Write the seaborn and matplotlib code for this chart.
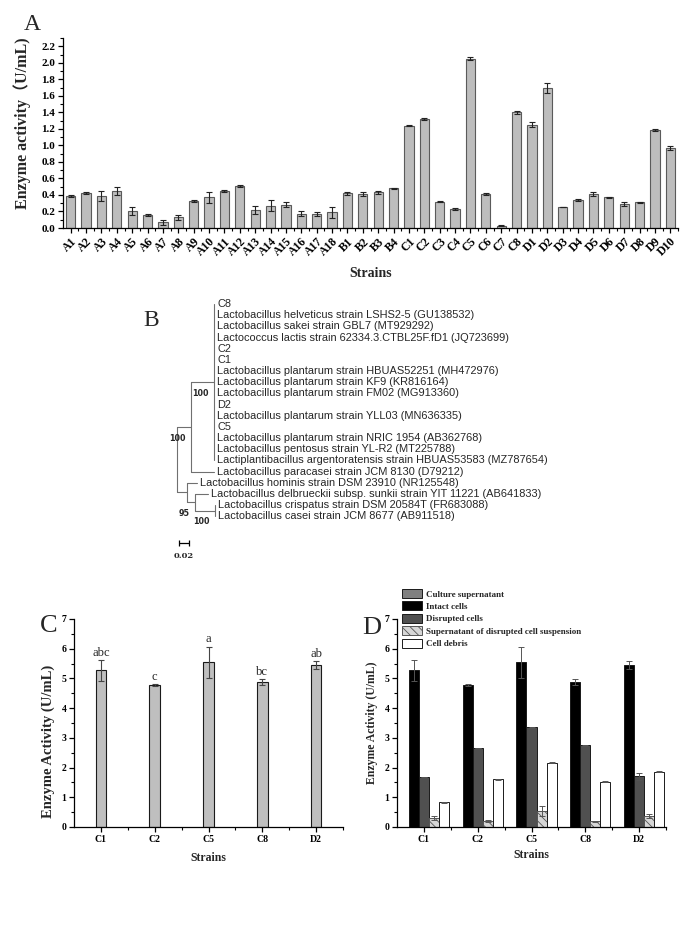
import numpy as np
import pandas as pd
import matplotlib
matplotlib.use("Agg")
import matplotlib.pyplot as plt
from matplotlib.patches import Patch
from matplotlib.ticker import MultipleLocator, FormatStrFormatter
import seaborn as sns

# ---- panel A: all strains ----
strains = ["A1", "A2", "A3", "A4", "A5", "A6", "A7", "A8", "A9", "A10",
           "A11", "A12", "A13", "A14", "A15", "A16", "A17", "A18",
           "B1", "B2", "B3", "B4",
           "C1", "C2", "C3", "C4", "C5", "C6", "C7", "C8",
           "D1", "D2", "D3", "D4", "D5", "D6", "D7", "D8", "D9", "D10"]
activity = [0.39, 0.42, 0.39, 0.45, 0.21, 0.16, 0.07, 0.13, 0.33, 0.37,
            0.45, 0.51, 0.22, 0.27, 0.28, 0.17, 0.17, 0.19,
            0.42, 0.41, 0.43, 0.48,
            1.24, 1.32, 0.32, 0.23, 2.05, 0.41, 0.03, 1.40,
            1.25, 1.70, 0.25, 0.34, 0.41, 0.37, 0.29, 0.31, 1.19, 0.97]
activity_err = [0.01, 0.01, 0.06, 0.05, 0.05, 0.01, 0.03, 0.03, 0.01, 0.07,
                0.01, 0.01, 0.05, 0.07, 0.03, 0.03, 0.02, 0.07,
                0.02, 0.02, 0.02, 0.01,
                0.01, 0.01, 0.01, 0.01, 0.02, 0.01, 0.01, 0.02,
                0.03, 0.06, 0.00, 0.01, 0.02, 0.01, 0.02, 0.01, 0.01, 0.02]

# ---- panel B: 16S tree ----
tree_labels = [
    "C8",
    "Lactobacillus helveticus strain LSHS2-5 (GU138532)",
    "Lactobacillus sakei strain GBL7 (MT929292)",
    "Lactococcus lactis strain 62334.3.CTBL25F.fD1 (JQ723699)",
    "C2",
    "C1",
    "Lactobacillus plantarum strain HBUAS52251 (MH472976)",
    "Lactobacillus plantarum strain KF9 (KR816164)",
    "Lactobacillus plantarum strain FM02 (MG913360)",
    "D2",
    "Lactobacillus plantarum strain YLL03 (MN636335)",
    "C5",
    "Lactobacillus plantarum strain NRIC 1954 (AB362768)",
    "Lactobacillus pentosus strain YL-R2 (MT225788)",
    "Lactiplantibacillus argentoratensis strain HBUAS53583 (MZ787654)",
    "Lactobacillus paracasei strain JCM 8130 (D79212)",
    "Lactobacillus hominis strain DSM 23910 (NR125548)",
    "Lactobacillus delbrueckii subsp. sunkii strain YIT 11221 (AB641833)",
    "Lactobacillus crispatus strain DSM 20584T (FR683088)",
    "Lactobacillus casei strain JCM 8677 (AB911518)",
]
# (child, parent, branch length); ints are leaves
tree_edges = [("n1", "root", 0.027), ("n3", "root", 0.019),
              ("n2", "n1", 0.047), (15, "n1", 0.047)] + \
             [(i, "n2", 0.0) for i in range(15)] + \
             [(16, "n3", 0.020), ("n4", "n3", 0.017),
              (17, "n4", 0.026), ("n5", "n4", 0.039),
              (18, "n5", 0.0), (19, "n5", 0.0)]
bootstrap = {"n1": 100, "n2": 100, "n4": 95, "n5": 100}
scale_len = 0.02

# ---- panels C and D: selected strains ----
sel_strains = ["C1", "C2", "C5", "C8", "D2"]
sel_activity = [5.27, 4.77, 5.55, 4.87, 5.44]
sel_err = [0.34, 0.03, 0.52, 0.10, 0.13]
sel_letters = ["abc", "c", "a", "bc", "ab"]

fractions = ["Culture supernatant", "Intact cells", "Disrupted cells",
             "Supernatant of disrupted cell suspension", "Cell debris"]
culture_sup = [0.0, 0.0, 0.0, 0.0, 0.0]
culture_sup_err = [0.0, 0.0, 0.0, 0.0, 0.0]
intact = [5.27, 4.77, 5.55, 4.87, 5.44]
intact_err = [0.34, 0.03, 0.52, 0.10, 0.13]
disrupted = [1.68, 2.65, 3.35, 2.75, 1.70]
disrupted_err = [0.0, 0.0, 0.02, 0.02, 0.12]
sup_disrupted = [0.30, 0.20, 0.54, 0.19, 0.37]
sup_disrupted_err = [0.08, 0.02, 0.17, 0.02, 0.08]
debris = [0.83, 1.60, 2.16, 1.53, 1.86]
debris_err = [0.02, 0.02, 0.02, 0.01, 0.01]

fraction_colors = ["#808080", "#000000", "#505050", "#d6d6d6", "#ffffff"]

sns.set_theme(style="ticks")
serif = ["Liberation Serif", "DejaVu Serif"]
plt.rcParams["font.family"] = serif
plt.rcParams["axes.linewidth"] = 0.9
plt.rcParams["hatch.linewidth"] = 0.6

fig = plt.figure(figsize=(7, 9.26), dpi=100)
H = 926.0


def style_axis(ax, fs):
    sns.despine(ax=ax)
    ax.tick_params(axis="both", which="major", direction="out", length=3.5,
                   width=0.9, labelsize=fs, pad=2, colors="black")
    ax.tick_params(axis="both", which="minor", direction="out", length=2,
                   width=0.8, colors="black")
    for lab in ax.get_xticklabels() + ax.get_yticklabels():
        lab.set_fontweight("bold")
    ax.spines["left"].set_color("black")
    ax.spines["bottom"].set_color("black")


# ===== A =====
axA = fig.add_axes([63 / 700, 1 - 228 / H, 615 / 700, 190 / H])
dfA = pd.DataFrame({"strain": strains, "activity": activity})
sns.barplot(data=dfA, x="strain", y="activity", order=strains,
            color="#bdbdbd", edgecolor="#5a5a5a", linewidth=0.8,
            width=0.6, saturation=1, errorbar=None, ax=axA)
axA.errorbar(np.arange(len(strains)), activity, yerr=activity_err,
             fmt="none", ecolor="#222222", elinewidth=0.8,
             capsize=2.2, capthick=0.8)
axA.set_xlim(-0.5, len(strains) - 0.5)
axA.set_ylim(0, 2.3)
axA.yaxis.set_major_locator(MultipleLocator(0.2))
axA.yaxis.set_minor_locator(MultipleLocator(0.1))
axA.yaxis.set_major_formatter(FormatStrFormatter("%.1f"))
axA.set_xticks(np.arange(len(strains)) + 0.5, minor=True)
style_axis(axA, 8)
plt.setp(axA.get_xticklabels(), rotation=45, ha="right",
         rotation_mode="anchor", fontsize=8.5)
axA.set_xlabel("Strains", fontsize=10, fontweight="bold", labelpad=6)
axA.set_ylabel("Enzyme activity（U/mL)", fontsize=11.5, fontweight="bold",
               family=["Liberation Serif", "Noto Sans CJK SC"], labelpad=2)
axA.yaxis.set_label_coords(-0.052, 0.55)
fig.text(24 / 700, 1 - 25 / H, "A", fontsize=17, va="center", ha="left")

# ===== B =====
row0, row_h = 304.0, 11.17
x0_px, px_per_unit = 177.3, 500.0
axB = fig.add_axes([140 / 700, 1 - 565 / H, 420 / 700, 270 / H])
axB.set_xlim((140 - x0_px) / px_per_unit, (560 - x0_px) / px_per_unit)
axB.set_ylim((565 - row0) / row_h, (295 - row0) / row_h)
axB.axis("off")

children = {}
length = {}
for child, parent, bl in tree_edges:
    children.setdefault(parent, []).append(child)
    length[child] = bl
node_x = {"root": 0.0}
node_y = {}


def place(node):
    for c in children.get(node, []):
        node_x[c] = node_x[node] + length[c]
        place(c)
    if isinstance(node, int):
        node_y[node] = float(node)
    else:
        ys = [node_y[c] for c in children[node]]
        node_y[node] = (min(ys) + max(ys)) / 2


place("root")
line_col = "#707070"
for node, kids in children.items():
    ys = [node_y[c] for c in kids]
    axB.plot([node_x[node]] * 2, [min(ys), max(ys)], color=line_col, lw=0.8)
    for c in kids:
        if length[c] > 0:
            axB.plot([node_x[node], node_x[c]], [node_y[c]] * 2,
                     color=line_col, lw=0.8)
for i, lab in enumerate(tree_labels):
    axB.text(node_x[i] + 0.006, node_y[i], lab, fontsize=7.9,
             family="Liberation Sans", va="center", ha="left")
for node, bs in bootstrap.items():
    axB.text(node_x[node] - 0.011, node_y[node] + 1.0, str(bs), fontsize=5.8,
             family="DejaVu Sans", fontweight="bold", va="center", ha="right")
sb_y = (543 - row0) / row_h
axB.errorbar([0.003 + scale_len / 2], [sb_y], xerr=[scale_len / 2],
             fmt="none", ecolor="black", elinewidth=0.9, capsize=2.5,
             capthick=0.9)
axB.text(0.003 + scale_len / 2, sb_y + 1.15, f"{scale_len:.2f}", fontsize=6,
         family="DejaVu Serif", fontweight="bold", ha="center", va="center")
fig.text(143 / 700, 1 - 320 / H, "B", fontsize=17, va="center", ha="left")

# ===== C =====
axC = fig.add_axes([74 / 700, 1 - 827 / H, 269 / 700, 208 / H])
dfC = pd.DataFrame({"strain": sel_strains, "activity": sel_activity})
sns.barplot(data=dfC, x="strain", y="activity", order=sel_strains,
            color="#bfbfbf", edgecolor="#1a1a1a", linewidth=0.8,
            width=0.2, saturation=1, errorbar=None, ax=axC)
axC.errorbar(np.arange(len(sel_strains)), sel_activity, yerr=sel_err,
             fmt="none", ecolor="#444444", elinewidth=0.8,
             capsize=2.5, capthick=0.8)
for i, (v, e, t) in enumerate(zip(sel_activity, sel_err, sel_letters)):
    axC.text(i, v + e + 0.04, t, fontsize=9, ha="center", va="bottom")
axC.set_xlim(-0.5, len(sel_strains) - 0.5)
axC.set_ylim(0, 7)
axC.yaxis.set_major_locator(MultipleLocator(1))
axC.yaxis.set_minor_locator(MultipleLocator(0.5))
axC.set_xticks(np.arange(len(sel_strains)) + 0.5, minor=True)
style_axis(axC, 7)
axC.set_xlabel("Strains", fontsize=8.5, fontweight="bold", labelpad=6)
axC.set_ylabel("Enzyme Activity (U/mL)", fontsize=10.5, fontweight="bold")
axC.yaxis.set_label_coords(-0.07, 0.41)
fig.text(40 / 700, 1 - 626 / H, "C", fontsize=19, va="center", ha="left")

# ===== D =====
axD = fig.add_axes([397 / 700, 1 - 827 / H, 269 / 700, 208 / H])
values = [culture_sup, intact, disrupted, sup_disrupted, debris]
errors = [culture_sup_err, intact_err, disrupted_err, sup_disrupted_err,
          debris_err]
dfD = pd.DataFrame([{"strain": s, "fraction": f, "activity": v}
                    for f, vals in zip(fractions, values)
                    for s, v in zip(sel_strains, vals)])
bar_w = 0.93 / len(fractions)
sns.barplot(data=dfD, x="strain", y="activity", hue="fraction",
            order=sel_strains, hue_order=fractions,
            palette=dict(zip(fractions, fraction_colors)),
            width=0.93, edgecolor="#1a1a1a", linewidth=0.7, saturation=1,
            errorbar=None, legend=False, ax=axD)
for j, cont in enumerate(axD.containers):
    if j == 3:
        for b in cont:
            if b is not None:
                b.set_hatch("\\\\\\\\")
                b.set_edgecolor("#555555")
for j in range(1, len(fractions)):
    xs = np.arange(len(sel_strains)) - 0.93 / 2 + bar_w * (j + 0.5)
    axD.errorbar(xs, values[j], yerr=errors[j], fmt="none",
                 ecolor="#555555", elinewidth=0.7, capsize=2, capthick=0.7)
axD.set_xlim(-0.5, len(sel_strains) - 0.5)
axD.set_ylim(0, 7)
axD.yaxis.set_major_locator(MultipleLocator(1))
axD.yaxis.set_minor_locator(MultipleLocator(0.5))
axD.set_xticks(np.arange(len(sel_strains)) + 0.5, minor=True)
style_axis(axD, 7)
axD.set_xlabel("Strains", fontsize=8.5, fontweight="bold", labelpad=4)
axD.set_ylabel("Enzyme Activity (U/mL)", fontsize=8.5, fontweight="bold",
               labelpad=5)
handles = [Patch(facecolor=c, edgecolor="#555555" if k == 3 else "#1a1a1a",
                 hatch="\\\\\\\\" if k == 3 else None, linewidth=0.7)
           for k, c in enumerate(fraction_colors)]
fig.legend(handles, fractions, loc="upper left",
           bbox_to_anchor=(402 / 700, 1 - 589 / H), frameon=False,
           borderpad=0, borderaxespad=0, handlelength=2.2, handleheight=1.15,
           handletextpad=0.5, labelspacing=0.32,
           prop={"family": serif, "weight": "bold", "size": 6.5})
fig.text(362 / 700, 1 - 628 / H, "D", fontsize=19, va="center", ha="left")

fig.savefig("out.png", dpi=100)
